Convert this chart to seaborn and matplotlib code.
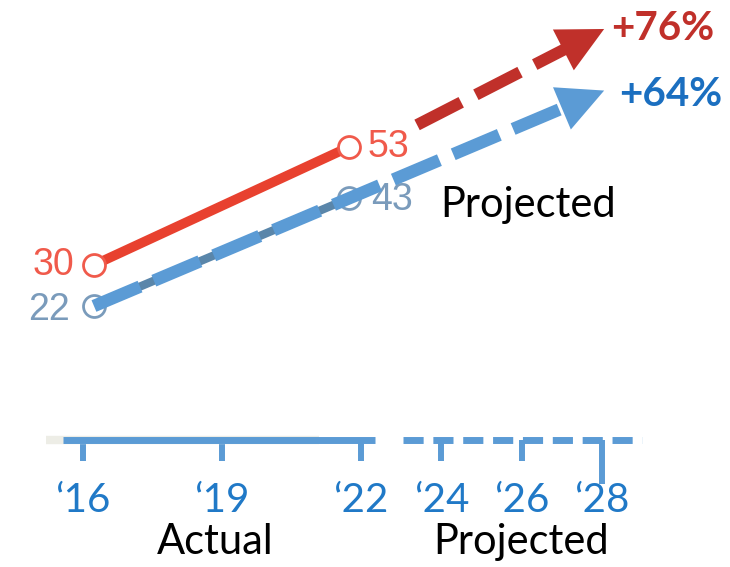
import numpy as np
import pandas as pd
import matplotlib
matplotlib.use("Agg")
import matplotlib.pyplot as plt
import seaborn as sns

# ---------------- data ----------------
years_actual = [2016, 2022]
red_actual = [30, 53]
blue_actual = [22, 43]

red_proj_years = [2023.6, 2028]
red_proj = [57.3, 76]
blue_proj_years = [2016, 2028]
blue_proj = [22, 64]

growth_labels = ["+76%", "+64%"]

tick_years = [2016, 2019, 2022, 2024, 2026, 2028]
tick_labels = ["\u201816", "\u201819", "\u201822", "\u201824", "\u201826", "\u201828"]

# ---------------- style ----------------
sns.set_theme(style="white")
plt.rcParams["font.family"] = ["Lato", "DejaVu Sans"]

RED_LINE = "#e8412f"
RED_LABEL = "#f05a4b"
RED_PROJ = "#c0302a"
BLUE_PROJ = "#5b9bd5"
BLUE_ACT = "#5a86aa"
BLUE_LABEL = "#7a9bbb"
BLUE_TEXT = "#1b6fc0"
TICK_TEXT = "#2079c7"

W, H = 730, 567
fig = plt.figure(figsize=(W / 100, H / 100), dpi=100)
fig.patch.set_facecolor("white")

# ---------------- main axes ----------------
ax = fig.add_axes([0, 0, 1, 1])
ax.set_xlim(2013.79, 2030.96)
ax.set_ylim(-28.87, 81.65)
ax.set_axis_off()

df_red = pd.DataFrame({"year": years_actual, "value": red_actual})
df_blue = pd.DataFrame({"year": years_actual, "value": blue_actual})

# actual lines
sns.lineplot(data=df_blue, x="year", y="value", ax=ax, color=BLUE_ACT, lw=6,
             solid_capstyle="butt", zorder=2)
sns.lineplot(data=df_red, x="year", y="value", ax=ax, color=RED_LINE, lw=7,
             solid_capstyle="butt", zorder=2)
sns.scatterplot(data=df_blue, x="year", y="value", ax=ax, marker="o", s=250,
                facecolor="white", edgecolor=BLUE_LABEL, linewidth=2.0, zorder=3)
sns.scatterplot(data=df_red, x="year", y="value", ax=ax, marker="o", s=250,
                facecolor="white", edgecolor=RED_LABEL, linewidth=2.0, zorder=3)

# value labels
lab_font = dict(family=["Liberation Sans", "DejaVu Sans"], fontsize=27)
ax.annotate(str(red_actual[0]), xy=(years_actual[0], red_actual[0]), xytext=(-14, 0),
            textcoords="offset points", ha="right", va="center", color=RED_LABEL, **lab_font)
ax.annotate(str(red_actual[1]), xy=(years_actual[1], red_actual[1]), xytext=(13, 0),
            textcoords="offset points", ha="left", va="center", color=RED_LABEL, **lab_font)
ax.annotate(str(blue_actual[0]), xy=(years_actual[0], blue_actual[0]), xytext=(-17, -3),
            textcoords="offset points", ha="right", va="center", color=BLUE_LABEL, **lab_font)
ax.annotate(str(blue_actual[1]), xy=(years_actual[1], blue_actual[1]), xytext=(16, -1),
            textcoords="offset points", ha="left", va="center", color=BLUE_LABEL,
            zorder=1, **lab_font)


def proj_arrow(xs, ys, color, lw, dashes):
    # shaft ends where the head starts (head length ~46 px in display space)
    p0 = ax.transData.transform((xs[0], ys[0]))
    p1 = ax.transData.transform((xs[1], ys[1]))
    L = np.hypot(*(p1 - p0))
    frac = 1 - 44 / L
    xe = xs[0] + (xs[1] - xs[0]) * frac
    ye = ys[0] + (ys[1] - ys[0]) * frac
    d = pd.DataFrame({"year": [xs[0], xe], "value": [ys[0], ye]})
    sns.lineplot(data=d, x="year", y="value", ax=ax, color=color, lw=lw,
                 linestyle=(0, dashes), dash_capstyle="butt", zorder=4)
    ax.annotate("", xy=(xs[1], ys[1]), xytext=(xs[0], ys[0]),
                arrowprops=dict(arrowstyle="-|>,head_length=33,head_width=16.5",
                                mutation_scale=1, color=color, lw=0,
                                shrinkA=0, shrinkB=0),
                zorder=5)


proj_arrow(blue_proj_years, blue_proj, BLUE_PROJ, 9, (4.0, 1.2))
proj_arrow(red_proj_years, red_proj, RED_PROJ, 8.5, (4.2, 1.4))

big_bold = dict(fontsize=29, fontweight="bold")
ax.annotate(growth_labels[0], xy=(red_proj_years[1], red_proj[1]), xytext=(5, 0),
            textcoords="offset points", ha="left", va="center", color=RED_PROJ, **big_bold)
ax.annotate(growth_labels[1], xy=(blue_proj_years[1], blue_proj[1]), xytext=(11, -3),
            textcoords="offset points", ha="left", va="center", color=BLUE_TEXT, **big_bold)

fig.text(528 / W, 1 - 205 / H, "Projected", ha="center", va="center",
         fontsize=30, color="black")

# ---------------- bottom time axis ----------------
K = 40.2 / 46.3


def fwd(x):
    x = np.asarray(x, dtype=float)
    return np.where(x <= 2022, x, 2022 + (x - 2022) * K)


def inv(y):
    y = np.asarray(y, dtype=float)
    return np.where(y <= 2022, y, 2022 + (y - 2022) / K)


axis_y = 440
ax2 = fig.add_axes([0, 1 - axis_y / H, 1, 0.04])
ax2.set_xscale("function", functions=(fwd, inv))
ax2.set_xlim(2014.21, 2031.18)
ax2.set_ylim(0, 1)
ax2.patch.set_alpha(0)
for s in ax2.spines.values():
    s.set_visible(False)
ax2.set_yticks([])

trans = ax2.get_xaxis_transform()
ax2.plot([2015.2, 2021.1], [0, 0], transform=trans, color="#ededE6", lw=6,
         solid_capstyle="butt", clip_on=False, zorder=1)
ax2.plot([2015.57, 2022.35], [0, 0], transform=trans, color=BLUE_PROJ, lw=5,
         solid_capstyle="butt", clip_on=False, zorder=2)
ax2.plot([2023.04, 2029.0], [0, 0], transform=trans, color=BLUE_PROJ, lw=5,
         linestyle=(0, (2.9, 1.4)), dash_capstyle="butt", clip_on=False, zorder=2)

ax2.set_xticks(tick_years)
ax2.set_xticklabels(tick_labels)
ax2.xaxis.set_minor_locator(matplotlib.ticker.NullLocator())
ax2.tick_params(axis="x", which="major", bottom=True, direction="out", length=15,
                width=4.3, color=BLUE_PROJ, pad=15, labelsize=29, labelcolor=TICK_TEXT)
ax2.xaxis.get_major_ticks()[-1].tick1line.set_markersize(32)

fig.text(215 / W, 1 - 542 / H, "Actual", ha="center", va="center",
         fontsize=30, color="black")
fig.text(521 / W, 1 - 542 / H, "Projected", ha="center", va="center",
         fontsize=30, color="black")

fig.savefig("out.png", dpi=100, facecolor="white")
